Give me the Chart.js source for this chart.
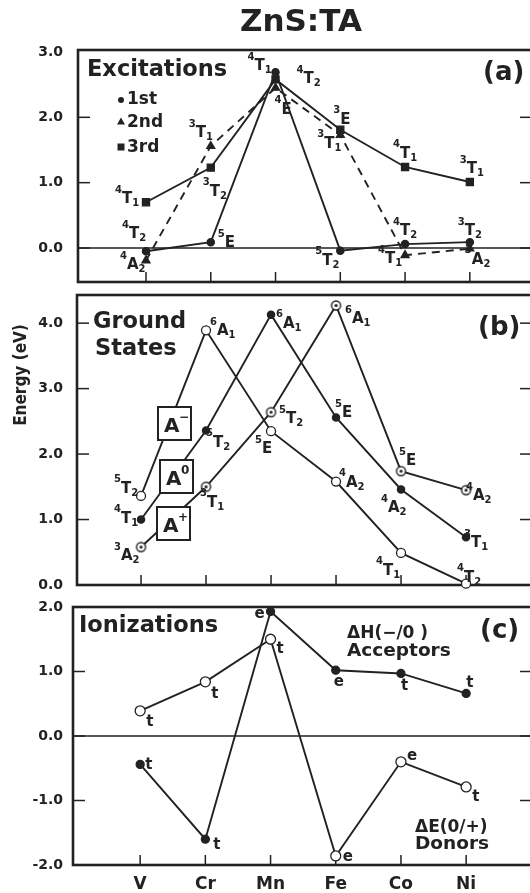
<!DOCTYPE html>
<html><head><meta charset="utf-8">
<script src="https://cdn.jsdelivr.net/npm/chart.js@4.4.0/dist/chart.umd.min.js"></script>
<style>
html,body{margin:0;padding:0;background:#fff;overflow:hidden;width:530px;height:893px}
#wrap{position:relative;width:530px;height:893px;overflow:hidden;background:#fff}
#wrap canvas{position:absolute;left:0;top:0}
</style></head><body>
<div id="wrap">
<canvas id="ca" width="540" height="893"></canvas>
<canvas id="cb" width="540" height="893"></canvas>
<canvas id="cc" width="540" height="893"></canvas>
</div>
<script>
// ---------- data ----------
const elements = ['V', 'Cr', 'Mn', 'Fe', 'Co', 'Ni'];
// (a) Excitations (eV)
const exc1st = [-0.05, 0.09, 2.69, -0.04, 0.06, 0.09];
const exc2nd = [-0.19, 1.56, 2.45, 1.73, -0.11, -0.01];
const exc3rd = [0.70, 1.23, 2.58, 1.81, 1.24, 1.01];
const excTicks = [0, 1, 2, 3];
// (b) Ground states (eV)
const gsMinus = [1.36, 3.89, 2.35, 1.58, 0.49, 0.02];
const gsZero = [1.00, 2.36, 4.13, 2.56, 1.46, 0.73];
const gsPlus = [0.58, 1.50, 2.64, 4.27, 1.74, 1.45];
const gsTicks = [0, 1, 2, 3, 4];
// (c) Ionizations (eV)
const ionOpen = [0.39, 0.84, 1.50, -1.86, -0.40, -0.79];
const ionFilled = [-0.44, -1.60, 1.93, 1.02, 0.97, 0.66];
const ionTicks = [-2, -1, 0, 1, 2];

// state labels: [series, category, superscript, letter, subscript]
const excStates = [
  [2,0,'4','T','1'],[0,0,'4','T','2'],[1,0,'4','A','2'],
  [1,1,'3','T','1'],[2,1,'3','T','2'],[0,1,'5','E',''],
  [0,2,'4','T','1'],[2,2,'4','T','2'],[1,2,'4','E',''],
  [2,3,'3','E',''],[1,3,'3','T','1'],[0,3,'5','T','2'],
  [2,4,'4','T','1'],[0,4,'4','T','2'],[1,4,'4','T','1'],
  [2,5,'3','T','1'],[0,5,'3','T','2'],[1,5,'3','A','2']
];
const gsStates = [
  [0,0,'5','T','2'],[1,0,'4','T','1'],[2,0,'3','A','2'],
  [0,1,'6','A','1'],[1,1,'5','T','2'],[2,1,'3','T','1'],
  [0,2,'5','E',''],[1,2,'6','A','1'],[2,2,'5','T','2'],
  [0,3,'4','A','2'],[1,3,'5','E',''],[2,3,'6','A','1'],
  [0,4,'4','T','1'],[1,4,'4','A','2'],[2,4,'5','E',''],
  [0,5,'4','T','2'],[1,5,'3','T','1'],[2,5,'4','A','2']
];
const ionStates = [
  [0,0,'t'],[0,1,'t'],[0,2,'t'],[0,3,'e'],[0,4,'e'],[0,5,'t'],
  [1,0,'t'],[1,1,'t'],[1,2,'e'],[1,3,'e'],[1,4,'t'],[1,5,'t']
];

// ---------- styling / label placement (pixel offsets) ----------
const INK = '#222';
const FONT = "'DejaVu Sans', 'Liberation Sans', sans-serif";
const excOff = [[-31,1],[-24,-13],[-26,9],[-22,-9],[-8,28],[7,5],[-28,-2],[21,4],[-1,26],
  [-7,-6],[-23,13],[-25,14],[-12,-9],[-12,-9],[-27,8],[-10,-9],[-12,-7],[-5,15]];
const gsOff = [[-27,-3],[-27,3],[-27,13],[4,5],[0,16],[-6,20],[-16,22],[5,13],[8,11],
  [3,5],[-1,0],[9,18],[-25,22],[-20,23],[-2,-6],[-9,-2],[-2,10],[0,10]];
const ionOff = [[6,15],[6,16],[6,14],[7,5],[6,-2],[6,14],[5,5],[8,10],[-16,6],[-2,16],[0,17],[0,-6]];

const pts = arr => arr.map((v, i) => ({x: i, y: v}));

function ringDot(r) {
  const c = document.createElement('canvas');
  const s = Math.ceil(2 * r + 4); c.width = s; c.height = s;
  const g = c.getContext('2d');
  g.fillStyle = '#fff'; g.strokeStyle = INK; g.lineWidth = 1.4;
  g.beginPath(); g.arc(s / 2, s / 2, r, 0, 2 * Math.PI); g.fill(); g.stroke();
  g.fillStyle = INK; g.beginPath(); g.arc(s / 2, s / 2, 1.6, 0, 2 * Math.PI); g.fill();
  return c;
}

function drawState(ctx, x, y, sup, main, sub) {
  ctx.textBaseline = 'alphabetic'; ctx.textAlign = 'left'; ctx.fillStyle = INK;
  let w = 0;
  if (sup) { ctx.font = `bold 10px ${FONT}`; ctx.fillText(sup, x, y - 10.5); w = ctx.measureText(sup).width; }
  ctx.font = `bold 15px ${FONT}`; ctx.fillText(main, x + w, y); w += ctx.measureText(main).width;
  if (sub) { ctx.font = `bold 10px ${FONT}`; ctx.fillText(sub, x + w, y + 3); }
}
function txt(ctx, s, x, y, size, align) {
  ctx.font = `bold ${size}px ${FONT}`; ctx.fillStyle = INK;
  ctx.textAlign = align || 'left'; ctx.textBaseline = 'alphabetic';
  ctx.fillText(s, x, y);
}
function seg(ctx, x1, y1, x2, y2) { ctx.beginPath(); ctx.moveTo(x1, y1); ctx.lineTo(x2, y2); ctx.stroke(); }

function makeFrame(yTicks, zero) {
  return {
    id: 'frame',
    beforeDatasetsDraw(chart) {
      const {ctx, chartArea: {left, right, top, bottom}, scales: {x, y}} = chart;
      ctx.save();
      ctx.strokeStyle = INK; ctx.lineWidth = 1.5;
      if (zero) { const yz = y.getPixelForValue(0); seg(ctx, left, yz, right, yz); }
      yTicks.forEach(v => {
        const py = y.getPixelForValue(v);
        if (py > top + 3 && py < bottom - 3) { seg(ctx, left, py, left + 12, py); seg(ctx, right, py, right - 12, py); }
      });
      elements.forEach((_, i) => { const px = x.getPixelForValue(i); seg(ctx, px, bottom, px, bottom - 10); });
      ctx.lineWidth = 2.6;
      ctx.strokeRect(left, top, right - left, bottom - top);
      ctx.restore();
    }
  };
}

function labelPlugin(states, offs, draw) {
  return {
    id: 'stateLabels',
    afterDatasetsDraw(chart) {
      const ctx = chart.ctx; ctx.save();
      states.forEach((s, k) => {
        const el = chart.getDatasetMeta(s[0]).data[s[1]];
        const [dx, dy] = offs[k];
        draw(ctx, el.x + dx, el.y + dy, s);
      });
      ctx.restore();
    }
  };
}

function baseOptions(o) {
  return {
    responsive: false, animation: false, devicePixelRatio: 1,
    layout: {padding: {top: o.padTop, bottom: o.padBottom, left: 0, right: 8}},
    plugins: {legend: {display: false}, tooltip: {enabled: false}, title: {display: false}},
    elements: {line: {tension: 0}},
    scales: {
      x: {
        type: 'linear', min: o.xmin, max: o.xmax, display: !!o.showX,
        grid: {display: false, drawTicks: false}, border: {display: false},
        afterBuildTicks: s => { s.ticks = elements.map((_, i) => ({value: i})); },
        afterFit: s => { if (o.showX) s.height = 28; },
        ticks: {callback: v => elements[v] ?? '', font: {family: FONT, weight: 'bold', size: 17},
          color: INK, padding: 9, maxRotation: 0, autoSkip: false}
      },
      y: {
        type: 'linear', min: o.ymin, max: o.ymax,
        grid: {display: false, drawTicks: false}, border: {display: false},
        afterBuildTicks: s => { s.ticks = o.yTicks.map(v => ({value: v})); },
        afterFit: s => { s.width = o.axisW; },
        ticks: {callback: v => Number(v).toFixed(1), font: {family: FONT, weight: 'bold', size: 14},
          color: INK, padding: o.axisW - 63}
      }
    }
  };
}
const lineDs = (data, extra) => Object.assign({
  data: pts(data), borderColor: INK, borderWidth: 1.9, pointBorderColor: INK,
  pointBackgroundColor: INK, pointBorderWidth: 1.3, clip: false, fill: false
}, extra);

// ---------- (a) Excitations ----------
const pageText = {
  id: 'pageText',
  afterDraw(chart) {
    const ctx = chart.ctx; const ca = chart.chartArea; ctx.save();
    txt(ctx, 'ZnS:TA', 301, 31, 31, 'center');
    txt(ctx, 'Excitations', ca.left + 9, ca.top + 26, 22.5);
    txt(ctx, '(a)', 483, 80, 26);
    // legend
    ctx.fillStyle = INK;
    ctx.beginPath(); ctx.arc(121, 100, 3, 0, 2 * Math.PI); ctx.fill();
    ctx.beginPath(); ctx.moveTo(121, 117.5); ctx.lineTo(125, 124.5); ctx.lineTo(117, 124.5); ctx.closePath(); ctx.fill();
    ctx.fillRect(117.5, 143.5, 7, 7);
    txt(ctx, '1st', 127, 104, 17);
    txt(ctx, '2nd', 127, 127, 17);
    txt(ctx, '3rd', 127, 152, 17);
    // axis title
    ctx.translate(22, 375); ctx.rotate(-Math.PI / 2);
    ctx.font = `bold 17px 'Liberation Sans Narrow', 'DejaVu Sans Condensed', ${FONT}`;
    ctx.textAlign = 'center'; ctx.textBaseline = 'middle'; ctx.fillStyle = INK;
    ctx.fillText('Energy (eV)', 0, 0);
    ctx.restore();
  }
};
new Chart(document.getElementById('ca'), {
  type: 'line',
  data: {datasets: [
    lineDs(exc1st, {pointStyle: 'circle', pointRadius: 3.6}),
    lineDs(exc2nd, {pointStyle: 'triangle', pointRadius: 4.6, borderDash: [8, 6]}),
    lineDs(exc3rd, {pointStyle: 'rect', pointRadius: 5})
  ]},
  options: baseOptions({padTop: 50, padBottom: 893 - 282, xmin: -1.05, xmax: 5.96,
    ymin: -0.52, ymax: 3.03, yTicks: excTicks, axisW: 78}),
  plugins: [makeFrame(excTicks, true),
    labelPlugin(excStates, excOff, (ctx, x, y, s) => drawState(ctx, x, y, s[2], s[3], s[4])), pageText]
});

// ---------- (b) Ground states ----------
const gsText = {
  id: 'gsText',
  afterDraw(chart) {
    const ctx = chart.ctx; ctx.save();
    txt(ctx, 'Ground', 93, 328, 22.5);
    txt(ctx, 'States', 95, 355, 22.5);
    txt(ctx, '(b)', 478, 335, 26);
    ctx.restore();
  },
  afterDatasetsDraw(chart) {
    const ctx = chart.ctx; ctx.save();
    const boxes = [['\u2212', 158, 407], ['0', 160, 460], ['+', 157, 507]];
    boxes.forEach(([sup, bx, by]) => {
      ctx.fillStyle = '#fff'; ctx.fillRect(bx, by, 33, 33);
      ctx.strokeStyle = INK; ctx.lineWidth = 2; ctx.strokeRect(bx, by, 33, 33);
      txt(ctx, 'A', bx + 6, by + 25, 20);
      txt(ctx, sup, bx + 21, by + 14, 12);
    });
    ctx.restore();
  }
};
new Chart(document.getElementById('cb'), {
  type: 'line',
  data: {datasets: [
    lineDs(gsMinus, {pointStyle: 'circle', pointRadius: 4.5, pointBackgroundColor: '#fff'}),
    lineDs(gsZero, {pointStyle: 'circle', pointRadius: 3.6}),
    lineDs(gsPlus, {pointStyle: ringDot(4.5), pointRadius: 5})
  ]},
  options: baseOptions({padTop: 295, padBottom: 893 - 585, xmin: -0.985, xmax: 6.015,
    ymin: 0, ymax: 4.43, yTicks: gsTicks, axisW: 77}),
  plugins: [makeFrame(gsTicks, false), gsText,
    labelPlugin(gsStates, gsOff, (ctx, x, y, s) => drawState(ctx, x, y, s[2], s[3], s[4]))]
});

// ---------- (c) Ionizations ----------
const ionText = {
  id: 'ionText',
  afterDraw(chart) {
    const ctx = chart.ctx; ctx.save();
    txt(ctx, 'Ionizations', 79, 632, 22.5);
    txt(ctx, '\u0394H(\u2212/0 )', 347, 638, 17);
    txt(ctx, 'Acceptors', 347, 656, 18.5);
    txt(ctx, '(c)', 480, 638, 26);
    txt(ctx, '\u0394E(0/+)', 415, 832, 17);
    txt(ctx, 'Donors', 415, 849, 18.5);
    ctx.restore();
  }
};
new Chart(document.getElementById('cc'), {
  type: 'line',
  data: {datasets: [
    lineDs(ionOpen, {pointStyle: 'circle', pointRadius: 5, pointBackgroundColor: '#fff'}),
    lineDs(ionFilled, {pointStyle: 'circle', pointRadius: 4})
  ]},
  options: baseOptions({padTop: 607, padBottom: 0, xmin: -1.03, xmax: 6.01,
    ymin: -2, ymax: 2, yTicks: ionTicks, axisW: 73, showX: true}),
  plugins: [makeFrame(ionTicks, true), ionText,
    labelPlugin(ionStates, ionOff, (ctx, x, y, s) => txt(ctx, s[2], x, y, 15))]
});
</script>
</body></html>
